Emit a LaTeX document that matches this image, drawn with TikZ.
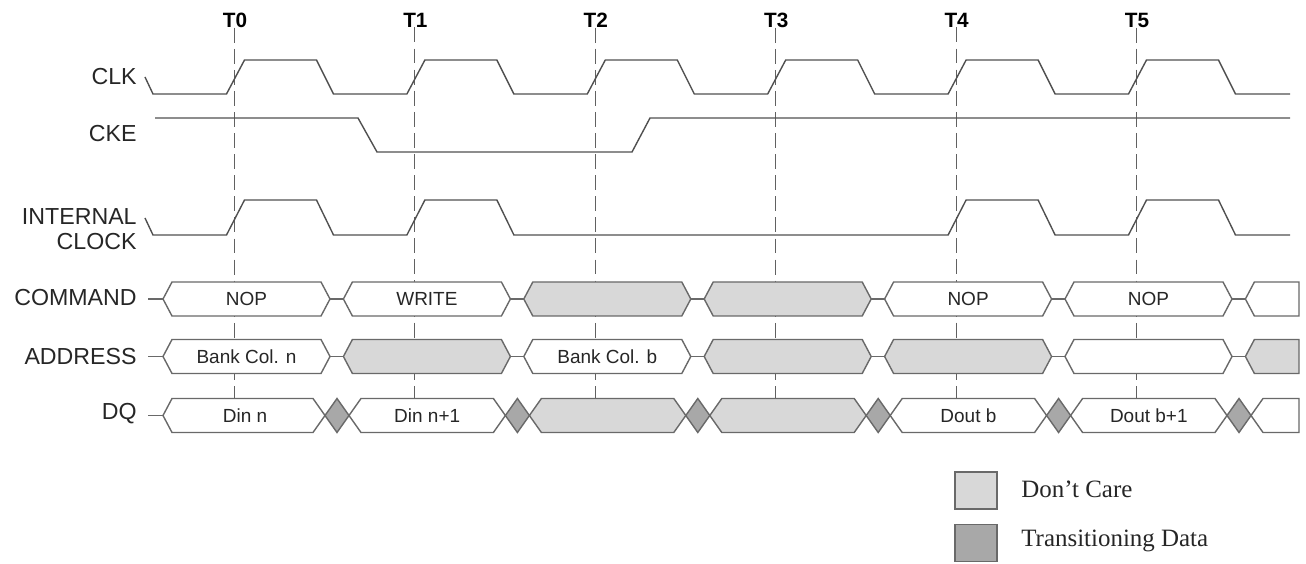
\documentclass[tikz,border=0pt]{standalone}
\usepackage{fontspec}
\setmainfont{Liberation Serif}
\setsansfont{Liberation Sans}
\usetikzlibrary{calc}
\definecolor{wire}{RGB}{80,80,80}
\definecolor{edge}{RGB}{105,105,105}
\definecolor{dcare}{RGB}{216,216,216}
\definecolor{trans}{RGB}{168,168,168}
\tikzset{
  wave/.style={draw=wire,line width=0.8pt},
  tline/.style={draw=wire!90,line width=0.6pt,dash pattern=on 8.5pt off 3.5pt},
  signame/.style={font=\sffamily\fontsize{13.2}{14.2}\selectfont,anchor=east,inner sep=0pt,align=right,text=black!85},
  tlab/.style={font=\sffamily\bfseries\fontsize{11.8}{12}\selectfont,inner sep=0pt},
  cell/.style={draw=edge,line width=0.8pt,fill=#1},
  cell/.default=white,
  busval/.style={font=\sffamily\fontsize{10.8}{12}\selectfont,inner sep=0pt,text=black!85},
  legbox/.style={draw=edge,line width=1pt,fill=#1,minimum width=0.84cm,minimum height=0.74cm,inner sep=0pt},
  legtext/.style={font=\fontsize{14.2}{15}\selectfont,anchor=west,inner sep=0pt,text=black!85},
}
% hexagon bus cell: left tip, right tip, mid y, fill, left bevel, right bevel
\newcommand{\hexcell}[6]{%
  \filldraw[cell=#4] ({#1},{#3}) -- ({#1+#5},{#3-17}) -- ({#2-#6},{#3-17}) -- ({#2},{#3})
    -- ({#2-#6},{#3+17}) -- ({#1+#5},{#3+17}) -- cycle;}
\begin{document}
\begin{tikzpicture}[x=0.02cm,y=-0.02cm]
  \useasboundingbox (0,0) rectangle (1306,564);
  \def\per{180.4}
  % clock edges
  \foreach \k in {0,...,5}{
    \node[tlab] (t\k) at ({235+\k*\per},20) {T\k};
    \draw[tline] (t\k.south) ++(-0.5,0) -- ++(0,371);
  }
  % signal names
  \node[signame] (clk) at (137,77) {CLK};
  \node[signame] (cke) at (137,134) {CKE};
  \node[signame] (iclk) at (137,229.5) {INTERNAL\\CLOCK};
  \node[signame] (cmd) at (137,298) {COMMAND};
  \node[signame] (addr) at (137,357) {ADDRESS};
  \node[signame] (dq) at (137,414) {DQ};
  % waveforms
  \draw[wave] (145,77) -- (153,94)
    \foreach \k in {0,...,5}{ -- ({226.5+\k*\per},94) -- ({244.5+\k*\per},60)
      -- ({316.5+\k*\per},60) -- ({333.5+\k*\per},94)} -- (1290,94);
  \draw[wave] (155,118) -- (358,118) -- (377,152) -- (632,152) -- (650,118) -- (1290,118);
  \draw[wave] (145,218) -- (153,235)
    \foreach \k in {0,1,4,5}{ -- ({226.5+\k*\per},235) -- ({244.5+\k*\per},200)
      -- ({316.5+\k*\per},200) -- ({333.5+\k*\per},235)} -- (1290,235);
  % command and address buses
  \foreach \y/\row in {299/{0/white/NOP,1/white/WRITE,2/dcare/,3/dcare/,4/white/NOP,5/white/NOP},
                       356.5/{0/white/Bank Col. n,1/dcare/,2/white/Bank Col. b,3/dcare/,4/dcare/,5/white/}}{
    \draw[wave,draw=edge] (148,\y) -- (163,\y);
    \foreach \k/\f/\txt in \row{
      \hexcell{163+\k*\per}{330+\k*\per}{\y}{\f}{9}{9}
      \draw[wave,draw=edge] ({330+\k*\per},\y) -- ({343.4+\k*\per},\y);
      \node[busval] (b\k-\y) at ({246.5+\k*\per},\y) {\txt};
    }
  }
  \hexcell{1245.4}{1299}{299}{white}{9}{0}
  \hexcell{1245.4}{1299}{356.5}{dcare}{9}{0}
  % data bus
  \draw[wave,draw=edge] (148,415.5) -- (163,415.5);
  \hexcell{163}{325}{415.5}{white}{9}{12}
  \foreach \k/\f/\txt in {1/white/Din n+1,2/dcare/,3/dcare/,4/white/Dout b,5/white/Dout b+1}{
    \hexcell{349+(\k-1)*\per}{325+\k*\per}{415.5}{\f}{12}{12}
    \node[busval] (d\k) at ({337+(\k-0.5)*\per},415.5) {\txt};
  }
  \node[busval] (d0) at (245,415.5) {Din n};
  \hexcell{1251}{1299}{415.5}{white}{12}{0}
  \foreach \k in {0,...,5}
    \filldraw[cell=trans] ({325+\k*\per},415.5) -- ({337+\k*\per},398.5) -- ({349+\k*\per},415.5)
      -- ({337+\k*\per},432.5) -- cycle;
  % legend
  \node[legbox=dcare] (dckey) at (976,490.5) {};
  \node[legbox=trans] (trkey) at (976,543) {};
  \node[legtext] (dctext) at (1021,489) {Don't Care};
  \node[legtext] (trtext) at (1021,541) {Transitioning Data};
\end{tikzpicture}
\end{document}
